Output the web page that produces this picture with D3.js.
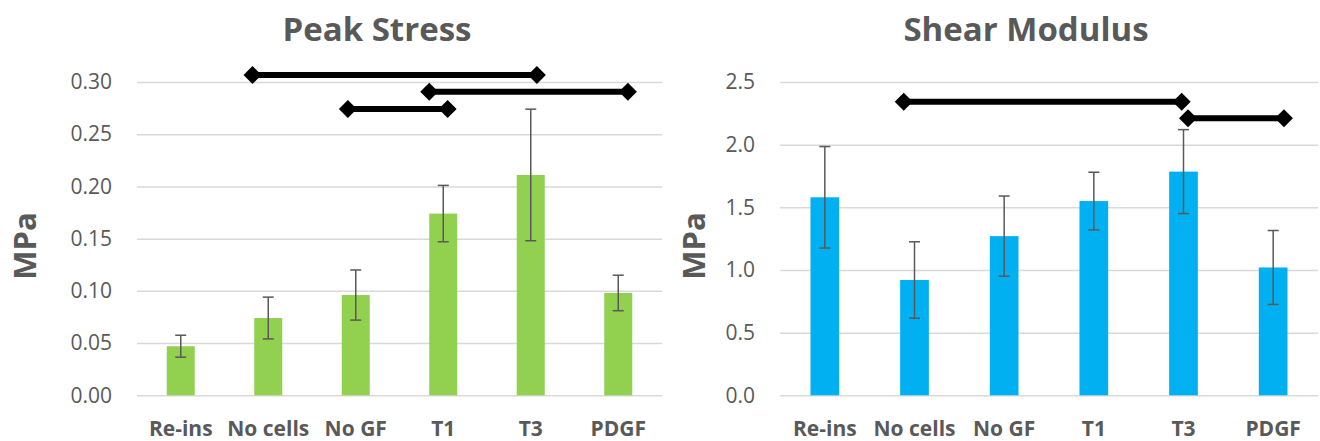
<!DOCTYPE html>
<html>
<head>
<meta charset="utf-8">
<script src="https://cdn.jsdelivr.net/npm/d3@7"></script>
<style>
    html, body { margin: 0; padding: 0; background: #fff; }
    svg { display: block; font-family: "Open Sans", sans-serif; }
</style>
</head>
<body>
<div class="charts"></div>
<script>
(function () {
    const categories = ['Re-ins', 'No cells', 'No GF', 'T1', 'T3', 'PDGF'];

    // peak stress (MPa), mean and error
    const stressMeans = [0.047, 0.074, 0.096, 0.174, 0.211, 0.098];
    const stressErrors = [0.0105, 0.020, 0.024, 0.027, 0.063, 0.017];
    const stressTicks = [0, 0.05, 0.10, 0.15, 0.20, 0.25, 0.30];

    // shear modulus (MPa), mean and error
    const modulusMeans = [1.58, 0.92, 1.27, 1.55, 1.785, 1.02];
    const modulusErrors = [0.405, 0.305, 0.32, 0.23, 0.335, 0.295];
    const modulusTicks = [0, 0.5, 1.0, 1.5, 2.0, 2.5];

    // significance bars: start / end in category units, height in MPa
    const stressBrackets = [
        { from: 1.32, to: 4.57, y: 0.3067 },
        { from: 3.34, to: 5.61, y: 0.2907 },
        { from: 2.41, to: 3.55, y: 0.2741 }
    ];
    const modulusBrackets = [
        { from: 1.38, to: 4.48, y: 2.343 },
        { from: 4.55, to: 5.62, y: 2.211 }
    ];

    const width = 1320, height = 441;
    let svg = d3.select('.charts').append('svg')
        .attr('width', width)
        .attr('height', height);

    drawPanel({
        title: 'Peak Stress', titleX: 377, axisX: 25,
        left: 137, right: 662, top: 82, bottom: 395.3,
        means: stressMeans, errors: stressErrors, ticks: stressTicks,
        format: d3.format('.2f'), brackets: stressBrackets, color: '#92d050'
    });
    drawPanel({
        title: 'Shear Modulus', titleX: 1026, axisX: 694,
        left: 780, right: 1318, top: 82, bottom: 395.3,
        means: modulusMeans, errors: modulusErrors, ticks: modulusTicks,
        format: d3.format('.1f'), brackets: modulusBrackets, color: '#00b0f0'
    });

    function drawPanel(c) {
        const g = svg.append('g');
        const y = d3.scaleLinear()
            .domain([0, c.ticks[c.ticks.length - 1]])
            .range([c.bottom, c.top]);
        const x = d3.scaleBand()
            .domain(categories)
            .range([c.left, c.right])
            .padding(0);
        const pos = d3.scaleLinear()
            .domain([0, categories.length])
            .range([c.left, c.right]);
        const barW = x.bandwidth() * 0.32;

        // gridlines + tick labels
        const yAxis = d3.axisLeft(y)
            .tickValues(c.ticks)
            .tickFormat(c.format)
            .tickSize(-(c.right - c.left))
            .tickPadding(25);
        const ya = g.append('g')
            .attr('transform', `translate(${c.left},0)`)
            .call(yAxis)
            .attr('font-family', null)
            .attr('font-size', null);
        ya.select('.domain').remove();
        ya.selectAll('.tick line')
            .attr('stroke', '#d9d9d9')
            .attr('stroke-width', 1.5);
        ya.selectAll('.tick text')
            .attr('x', -25)
            .attr('fill', '#595959')
            .style('font-size', '21px');

        // bars
        g.selectAll('rect.bar')
            .data(c.means)
            .join('rect')
            .attr('class', 'bar')
            .attr('x', (d, i) => x(categories[i]) + (x.bandwidth() - barW) / 2)
            .attr('width', barW)
            .attr('y', d => y(d))
            .attr('height', d => y(0) - y(d))
            .attr('fill', c.color);

        // error bars
        const eb = g.selectAll('g.err')
            .data(c.means)
            .join('g')
            .attr('class', 'err')
            .attr('stroke', '#595959')
            .attr('stroke-width', 1.5);
        eb.append('line')
            .attr('x1', (d, i) => x(categories[i]) + x.bandwidth() / 2)
            .attr('x2', (d, i) => x(categories[i]) + x.bandwidth() / 2)
            .attr('y1', (d, i) => y(d + c.errors[i]))
            .attr('y2', (d, i) => y(d - c.errors[i]));
        [1, -1].forEach(function (s) {
            eb.append('line')
                .attr('x1', (d, i) => x(categories[i]) + x.bandwidth() / 2 - 5.5)
                .attr('x2', (d, i) => x(categories[i]) + x.bandwidth() / 2 + 5.5)
                .attr('y1', (d, i) => y(d + s * c.errors[i]))
                .attr('y2', (d, i) => y(d + s * c.errors[i]));
        });

        // category labels
        g.selectAll('text.cat')
            .data(categories)
            .join('text')
            .attr('class', 'cat')
            .attr('x', d => x(d) + x.bandwidth() / 2)
            .attr('y', 436)
            .attr('text-anchor', 'middle')
            .attr('fill', '#595959')
            .style('font-size', '21px')
            .style('font-weight', 700)
            .text(d => d);

        // significance bars
        const br = g.selectAll('g.bracket')
            .data(c.brackets)
            .join('g')
            .attr('class', 'bracket');
        br.append('line')
            .attr('x1', d => pos(d.from))
            .attr('x2', d => pos(d.to))
            .attr('y1', d => y(d.y))
            .attr('y2', d => y(d.y))
            .attr('stroke', '#000')
            .attr('stroke-width', 6);
        br.selectAll('path')
            .data(d => [[d.from, d.y], [d.to, d.y]])
            .join('path')
            .attr('d', 'M0,-9L9,0L0,9L-9,0Z')
            .attr('transform', d => `translate(${pos(d[0])},${y(d[1])})`)
            .attr('fill', '#000');

        // title and axis title
        g.append('text')
            .attr('x', c.titleX)
            .attr('y', 41)
            .attr('text-anchor', 'middle')
            .attr('fill', '#595959')
            .style('font-size', '33px')
            .style('font-weight', 700)
            .text(c.title);
        g.append('text')
            .attr('transform', `translate(${c.axisX + 11},246) rotate(-90)`)
            .attr('text-anchor', 'middle')
            .attr('fill', '#595959')
            .style('font-size', '31px')
            .style('font-weight', 700)
            .text('MPa');
    }
})();
</script>
</body>
</html>
